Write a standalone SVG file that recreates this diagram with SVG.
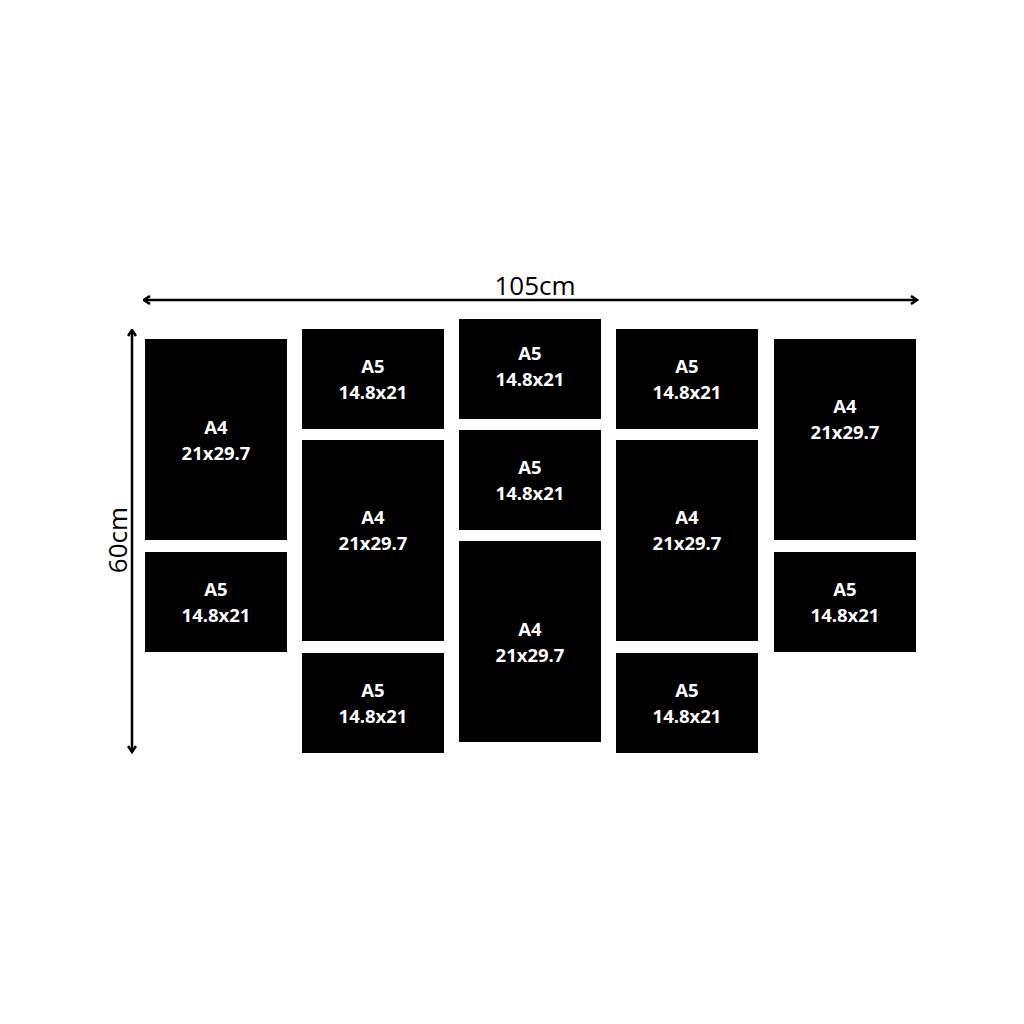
<svg xmlns="http://www.w3.org/2000/svg" width="1024" height="1024" viewBox="0 0 1024 1024">
<style>
.p{fill:#000}
.t{fill:#fff;font-family:"Open Sans","Liberation Sans",sans-serif;font-weight:700;font-size:18.5px;text-anchor:middle}
.d{font-family:"Open Sans","Liberation Sans",sans-serif;font-size:26px;fill:#000;text-anchor:middle}
.a{stroke:#000;stroke-width:2.5;fill:none}
</style>
<defs>
<marker id="ah" viewBox="0 0 10 10" refX="8.5" refY="5" markerWidth="10" markerHeight="10" orient="auto-start-reverse" markerUnits="userSpaceOnUse">
<path d="M2.5,1 L8.5,5 L2.5,9" fill="none" stroke="#000" stroke-width="2.6"/>
</marker>
</defs>
<rect width="1024" height="1024" fill="#fff"/>
<g id="connectors">
<line class="a" x1="144" y1="300" x2="917" y2="300" marker-start="url(#ah)" marker-end="url(#ah)"/>
<line class="a" x1="132" y1="330" x2="132" y2="752" marker-start="url(#ah)" marker-end="url(#ah)"/>
</g>
<g id="dim-width"><text class="d" x="535" y="295">105cm</text></g>
<g id="dim-height"><text class="d" transform="translate(127,540) rotate(-90)">60cm</text></g>
<g id="c1a4"><rect class="p" x="145" y="339" width="142" height="201"/><text class="t" x="216" y="434">A4</text><text class="t" x="216" y="460">21x29.7</text></g>
<g id="c1a5"><rect class="p" x="145" y="552" width="142" height="100"/><text class="t" x="216" y="596">A5</text><text class="t" x="216" y="622">14.8x21</text></g>
<g id="c2a5t"><rect class="p" x="302" y="329" width="142" height="100"/><text class="t" x="373" y="373">A5</text><text class="t" x="373" y="399">14.8x21</text></g>
<g id="c2a4"><rect class="p" x="302" y="440" width="142" height="201"/><text class="t" x="373" y="524">A4</text><text class="t" x="373" y="550">21x29.7</text></g>
<g id="c2a5b"><rect class="p" x="302" y="653" width="142" height="100"/><text class="t" x="373" y="697">A5</text><text class="t" x="373" y="723">14.8x21</text></g>
<g id="c3a5t"><rect class="p" x="459" y="319" width="142" height="100"/><text class="t" x="530" y="360">A5</text><text class="t" x="530" y="386">14.8x21</text></g>
<g id="c3a5m"><rect class="p" x="459" y="430" width="142" height="100"/><text class="t" x="530" y="474">A5</text><text class="t" x="530" y="500">14.8x21</text></g>
<g id="c3a4"><rect class="p" x="459" y="541" width="142" height="201"/><text class="t" x="530" y="636">A4</text><text class="t" x="530" y="662">21x29.7</text></g>
<g id="c4a5t"><rect class="p" x="616" y="329" width="142" height="100"/><text class="t" x="687" y="373">A5</text><text class="t" x="687" y="399">14.8x21</text></g>
<g id="c4a4"><rect class="p" x="616" y="440" width="142" height="201"/><text class="t" x="687" y="524">A4</text><text class="t" x="687" y="550">21x29.7</text></g>
<g id="c4a5b"><rect class="p" x="616" y="653" width="142" height="100"/><text class="t" x="687" y="697">A5</text><text class="t" x="687" y="723">14.8x21</text></g>
<g id="c5a4"><rect class="p" x="774" y="339" width="142" height="201"/><text class="t" x="845" y="413">A4</text><text class="t" x="845" y="439">21x29.7</text></g>
<g id="c5a5"><rect class="p" x="774" y="552" width="142" height="100"/><text class="t" x="845" y="596">A5</text><text class="t" x="845" y="622">14.8x21</text></g>
</svg>
